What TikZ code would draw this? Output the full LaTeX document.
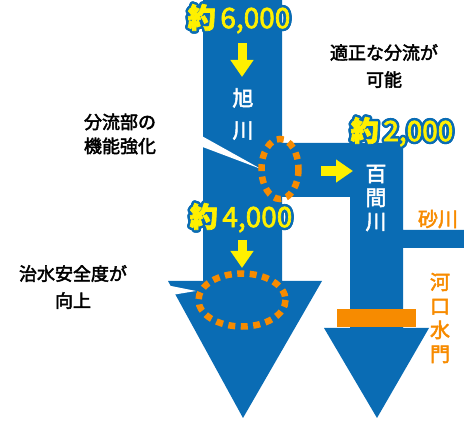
\documentclass[tikz,border=0pt]{standalone}
\usepackage{fontspec}
\setmainfont{Noto Sans CJK JP}
\newfontfamily\medfont{Noto Sans CJK JP}[FakeBold=2.5]
\usepackage{contour}
\contourlength{2.5pt}
\usetikzlibrary{arrows.meta}
\definecolor{riverblue}{RGB}{10,108,180}
\definecolor{gateorange}{RGB}{247,139,0}
\definecolor{flowyellow}{RGB}{255,240,0}
\newcommand{\flowlabel}[2]{\contour{riverblue}{\textcolor{flowyellow}{{\bfseries #1}\,#2}}}
\begin{document}
\begin{tikzpicture}[x=1pt, y=-1pt, every node/.style={inner sep=0pt, align=center},
    flow/.style={font=\fontsize{28}{28}\medfont},
    note/.style={font=\fontsize{18}{27}\medfont},
    river/.style={text=white, font=\fontsize{21}{24}\medfont},
    gatetext/.style={text=gateorange, font=\fontsize{20}{24}\medfont},
    dotring/.style={gateorange, line width=6.5pt, dash pattern=on 7pt off 5.5pt},
    flowarrow/.style={flowyellow, line width=9pt, -{Triangle[width=22pt, length=17pt]}}]
            \useasboundingbox (0,0) rectangle (464,422);
            \fill[riverblue] (203,0) -- (282,0) -- (282,143) -- (403,143) -- (403,230)
                -- (464,230) -- (464,248) -- (403,248) -- (403,328) -- (429,328)
                -- (377,418) -- (324,328) -- (350,328) -- (350,197) -- (282,197)
                -- (282,281) -- (322,281) -- (243,418) -- (168,281) -- (203,281) -- cycle;
            \fill[white] (200,135) -- (261,169) -- (200,146) -- cycle;
            \fill[white] (166,285) -- (196,291) -- (166,296) -- cycle;
            \fill[gateorange] (337,309) rectangle (416,327);

            \draw[dotring] (280,169) ellipse [x radius=18.5, y radius=30];
            \draw[dotring] (242,300) ellipse [x radius=43.5, y radius=26.5];

            \coordinate (a-top) at (242,43);
            \coordinate (a-top') at (242,77);
            \coordinate (a-mid) at (242,240);
            \coordinate (a-mid') at (242,268);
            \coordinate (a-side) at (321,171);
            \coordinate (a-side') at (353,171);
            \draw[flowarrow] (a-top) -- (a-top');
            \draw[flowarrow] (a-mid) -- (a-mid');
            \draw[flowarrow, line width=10pt] (a-side) -- (a-side');

            \node[flow] (f-6000) at (239,20) {\flowlabel{約}{6,000}};
            \node[flow] (f-4000) at (241,219) {\flowlabel{約}{4,000}};
            \node[flow] (f-2000) at (402,133) {\flowlabel{約}{2,000}};

            \node[river, font=\fontsize{21}{32}\medfont] (asahi) at (243,114) {旭\\川};
            \node[river] (hyakken) at (376,198) {百\\間\\川};
            \node[gatetext] (suna) at (438,219) {砂川};
            \node[gatetext] (kako) at (440,318) {河\\口\\水\\門};

            \node[note] (n-split) at (384,66) {適正な分流が\\可能};
            \node[note, font=\fontsize{18}{24}\medfont] (n-func) at (120,134) {分流部の\\機能強化};
            \node[note] (n-safe) at (73,287) {治水安全度が\\向上};
        \end{tikzpicture}
\end{document}
